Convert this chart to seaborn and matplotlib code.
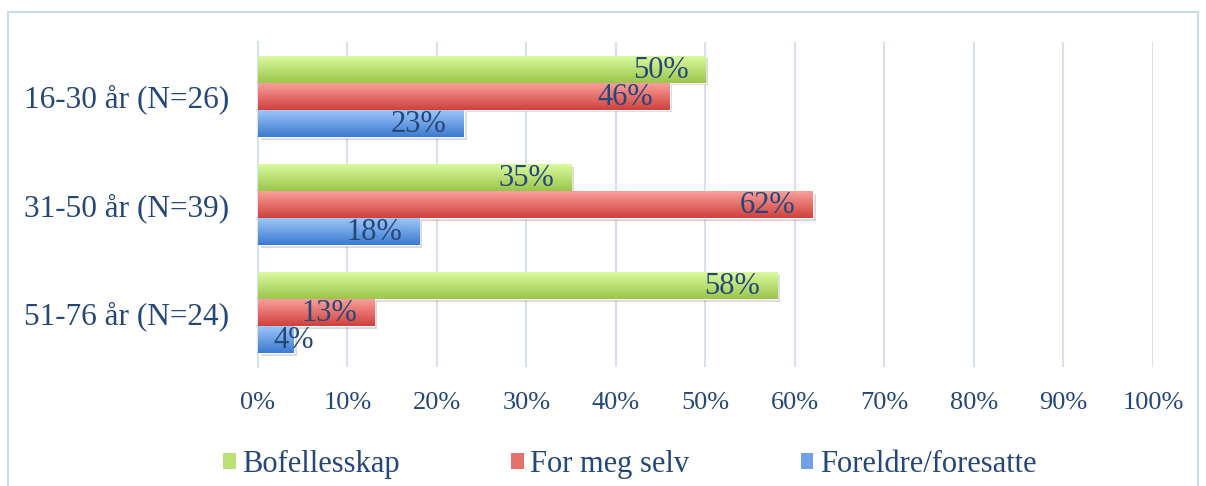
import numpy as np
import pandas as pd
import seaborn as sns
import matplotlib.pyplot as plt
from matplotlib.patches import Rectangle, Patch
from matplotlib.colors import LinearSegmentedColormap
import matplotlib.patheffects as pe

# Data
groups = ["16-30 år (N=26)", "31-50 år (N=39)", "51-76 år (N=24)"]
series = ["Bofellesskap", "For meg selv", "Foreldre/foresatte"]
bofellesskap = [50, 35, 58]
for_meg_selv = [46, 62, 13]
foreldre = [23, 18, 4]
x_ticks = [0, 10, 20, 30, 40, 50, 60, 70, 80, 90, 100]

df = pd.DataFrame({
    "group": groups * 3,
    "series": [s for s in series for _ in groups],
    "value": bofellesskap + for_meg_selv + foreldre,
})

# top / bottom colours of each bar gradient
grad = {
    "Bofellesskap": ("#dcfca2", "#9bc54a"),
    "For meg selv": ("#fca29e", "#cf413c"),
    "Foreldre/foresatte": ("#a2c8fb", "#3b7bcf"),
}
mid = {k: LinearSegmentedColormap.from_list(k, v)(0.5) for k, v in grad.items()}
text_col = "#24477a"
grid_col = "#d5e0f0"

sns.set_style("white")
plt.rcParams["font.family"] = ["Liberation Serif", "DejaVu Serif"]

fig = plt.figure(figsize=(12.06, 4.86), dpi=100)
ax = fig.add_axes([0.2139, 0.2449, 0.7421, 0.6687])

sns.barplot(data=df, y="group", x="value", hue="series", hue_order=series,
            order=groups, orient="h", width=0.75, palette=mid, ax=ax,
            legend=False, errorbar=None)

ax.set_xlim(0, 100)
ax.set_ylim(2.5, -0.5)

# gradient fill + shadow + value labels
grad_img = np.linspace(0, 1, 64).reshape(-1, 1)
for cont, s in zip(ax.containers, series):
    cmap = LinearSegmentedColormap.from_list(s, grad[s])
    for patch, val in zip(cont.patches, cont.datavalues):
        patch.set_path_effects([pe.SimplePatchShadow(offset=(2, -2), alpha=0.18),
                                pe.Normal()])
        x0, y0 = patch.get_x(), patch.get_y()
        w, h = patch.get_width(), patch.get_height()
        im = ax.imshow(grad_img, cmap=cmap, aspect="auto", origin="upper",
                       extent=(x0, x0 + w, y0 + h, y0), zorder=3,
                       interpolation="bilinear")
        im.set_clip_path(patch)
        if val >= 8:
            ax.annotate(f"{val:.0f}%", xy=(x0 + w, y0 + h / 2),
                        xytext=(-17, -1), textcoords="offset pixels",
                        ha="right", va="center", fontsize=22, color=text_col,
                        zorder=5)
        else:
            ax.annotate(f"{val:.0f}%", xy=(x0, y0 + h / 2),
                        xytext=(15, -1), textcoords="offset pixels",
                        ha="left", va="center", fontsize=22, color=text_col,
                        zorder=5)

ax.set_xlim(0, 100)
ax.set_ylim(2.5, -0.5)
ax.set_xticks(x_ticks)
ax.set_xticklabels([f"{t}%" for t in x_ticks])
ax.tick_params(axis="x", labelsize=19, labelcolor=text_col, length=0, pad=18)
ax.tick_params(axis="y", labelsize=22.5, labelcolor=text_col, length=0, pad=21)
ax.set_xlabel("")
ax.set_ylabel("")
ax.grid(axis="x", color=grid_col, linewidth=1.5)
ax.set_axisbelow(True)
for side in ["top", "right", "bottom"]:
    ax.spines[side].set_visible(False)
ax.spines["left"].set_color(grid_col)
ax.spines["left"].set_linewidth(1.5)

# legend
handles = [Patch(facecolor=mid[s], edgecolor="none", label=s) for s in series]
fig.legend(handles=handles, loc="center", bbox_to_anchor=(0.522, 0.045),
           ncol=3, frameon=False, fontsize=22, labelcolor=text_col,
           handlelength=0.42, handleheight=0.42, handletextpad=0.2,
           columnspacing=3.65)

# outer chart frame
fig.patches.append(Rectangle((8 / 1206, -0.05), 1190 / 1206, 1 - 12 / 486 + 0.05,
                             transform=fig.transFigure, fill=False,
                             edgecolor="#c9dbf1", linewidth=1.5))

fig.savefig("out.png", dpi=100)
